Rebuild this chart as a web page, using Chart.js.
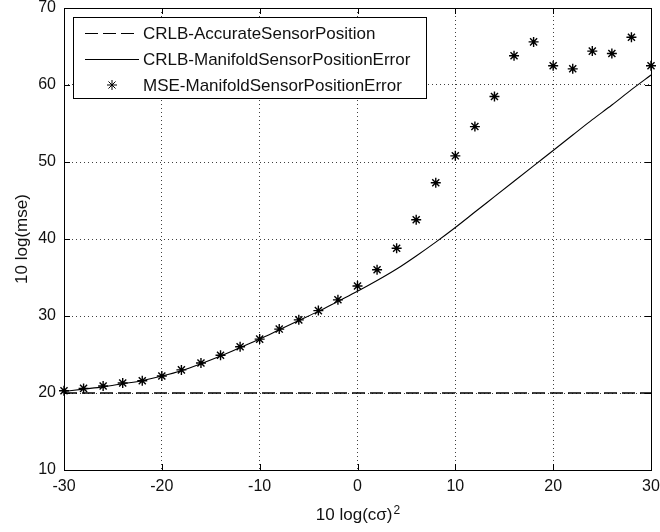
<!DOCTYPE html>
<html>
<head>
<meta charset="utf-8">
<script src="https://cdn.jsdelivr.net/npm/chart.js@4.4.0/dist/chart.umd.min.js"></script>
<style>
  html, body { margin: 0; padding: 0; background: #fff; }
  #wrap { width: 660px; height: 532px; }
</style>
</head>
<body>
<div id="wrap"><canvas id="mse_chart" width="660" height="532"></canvas></div>
<script>
// noise level, 10 log(c sigma)^2 in dB
const snrDb = [-30, -28, -26, -24, -22, -20, -18, -16, -14, -12, -10, -8, -6, -4, -2, 0,
               2, 4, 6, 8, 10, 12, 14, 16, 18, 20, 22, 24, 26, 28, 30];

// bound with exact sensor positions (flat)
const crlbAccurate = [20, 20, 20, 20, 20, 20, 20, 20, 20, 20, 20, 20, 20, 20, 20, 20,
                      20, 20, 20, 20, 20, 20, 20, 20, 20, 20, 20, 20, 20, 20, 20];

// bound with sensor position errors on the manifold
const crlbManifold = [20.2, 20.5, 20.8, 21.2, 21.6, 22.2, 22.9, 23.8, 24.8, 25.9, 27.0, 28.2,
                      29.4, 30.6, 31.9, 33.2, 34.6, 36.1, 37.8, 39.6, 41.5, 43.5, 45.5, 47.5,
                      49.5, 51.5, 53.5, 55.5, 57.4, 59.4, 61.3];

// simulated mse of the estimator
const mseManifold = [20.3, 20.6, 20.9, 21.3, 21.6, 22.2, 23.0, 23.9, 24.9, 26.0, 27.0, 28.3,
                     29.5, 30.7, 32.1, 33.9, 36.0, 38.8, 42.5, 47.3, 50.8, 54.6, 58.5, 63.8,
                     65.6, 62.5, 62.1, 64.4, 64.1, 66.2, 62.5];

const seriesNames = ['CRLB-AccurateSensorPosition', 'CRLB-ManifoldSensorPositionError', 'MSE-ManifoldSensorPositionError'];
const xTicks = [-30, -20, -10, 0, 10, 20, 30];
const yTicks = [10, 20, 30, 40, 50, 60, 70];
const xTitle = '10 log(cσ)';
const xTitleSup = '2';
const yTitle = '10 log(mse)';

const FONT = 'Liberation Sans, Arial, sans-serif';
const DASH = [13, 5];

function pts(ys) {
    return snrDb.map((x, i) => ({ x: x, y: ys[i] }));
}

// box, inward ticks, x title with superscript, legend inside the axes
const matlabFrame = {
    id: 'matlabFrame',
    afterDatasetsDraw(chart) {
        const { ctx, chartArea: a, scales } = chart;
        ctx.save();
        ctx.strokeStyle = '#000';
        ctx.lineWidth = 1;
        ctx.setLineDash([]);
        ctx.strokeRect(a.left + 0.5, a.top + 0.5, a.right - a.left, a.bottom - a.top);
        ctx.beginPath();
        xTicks.forEach(v => {
            const px = Math.round(scales.x.getPixelForValue(v)) + 0.5;
            ctx.moveTo(px, a.bottom); ctx.lineTo(px, a.bottom - 6);
            ctx.moveTo(px, a.top); ctx.lineTo(px, a.top + 6);
        });
        yTicks.forEach(v => {
            const py = Math.round(scales.y.getPixelForValue(v)) + 0.5;
            ctx.moveTo(a.left, py); ctx.lineTo(a.left + 6, py);
            ctx.moveTo(a.right, py); ctx.lineTo(a.right - 6, py);
        });
        ctx.stroke();
        ctx.restore();
    },
    afterDraw(chart) {
        const { ctx, chartArea: a } = chart;
        ctx.save();
        ctx.fillStyle = '#111';

        // x axis title
        ctx.font = '17px ' + FONT;
        const w1 = ctx.measureText(xTitle).width;
        ctx.font = '12px ' + FONT;
        const w2 = ctx.measureText(xTitleSup).width;
        const x0 = (a.left + a.right) / 2 - (w1 + w2) / 2;
        ctx.textBaseline = 'alphabetic';
        ctx.textAlign = 'left';
        ctx.font = '17px ' + FONT;
        ctx.fillText(xTitle, x0, 520);
        ctx.font = '12px ' + FONT;
        ctx.fillText(xTitleSup, x0 + w1 + 1, 514);

        // legend
        const box = { left: 73, top: 17, right: 426, bottom: 98 };
        ctx.fillStyle = '#fff';
        ctx.fillRect(box.left, box.top, box.right - box.left, box.bottom - box.top);
        ctx.strokeStyle = '#000';
        ctx.lineWidth = 1;
        ctx.strokeRect(box.left + 0.5, box.top + 0.5, box.right - box.left, box.bottom - box.top);
        const rows = [33, 59, 85];
        chart.data.datasets.forEach((ds, i) => {
            const y = rows[i];
            ctx.strokeStyle = '#000';
            ctx.lineWidth = 1;
            if (ds.showLine === false) {
                Chart.helpers.drawPoint(ctx, { pointStyle: 'star', radius: 5, borderWidth: 1.4, rotation: 0 }, 112, y);
            } else {
                ctx.setLineDash(ds.borderDash || []);
                ctx.beginPath();
                ctx.moveTo(85, y + 0.5);
                ctx.lineTo(139, y + 0.5);
                ctx.stroke();
                ctx.setLineDash([]);
            }
            ctx.fillStyle = '#111';
            ctx.font = '17px ' + FONT;
            ctx.textBaseline = 'middle';
            ctx.fillText(ds.label, 143, y + 1);
        });
        ctx.restore();
    }
};

const ctx = document.getElementById('mse_chart').getContext('2d');
new Chart(ctx, {
    type: 'scatter',
    data: {
        datasets: [{
            label: seriesNames[0],
            data: pts(crlbAccurate),
            showLine: true,
            borderColor: '#000',
            borderWidth: 1.4,
            borderDash: DASH,
            pointRadius: 0,
            fill: false
        }, {
            label: seriesNames[1],
            data: pts(crlbManifold),
            showLine: true,
            borderColor: '#000',
            borderWidth: 1.1,
            pointRadius: 0,
            cubicInterpolationMode: 'monotone',
            fill: false
        }, {
            label: seriesNames[2],
            data: pts(mseManifold),
            showLine: false,
            pointStyle: 'star',
            pointRadius: 5,
            pointBorderWidth: 1.4,
            pointBorderColor: '#000',
            pointBackgroundColor: '#000',
            clip: false
        }]
    },
    options: {
        responsive: false,
        animation: false,
        layout: { padding: { top: 8, right: 9, left: 0, bottom: 0 } },
        plugins: {
            legend: { display: false },
            tooltip: { enabled: false }
        },
        scales: {
            x: {
                type: 'linear',
                min: -30,
                max: 30,
                afterBuildTicks: s => { s.ticks = xTicks.map(v => ({ value: v })); },
                afterFit: s => { s.height = 62; s.paddingLeft = 0; s.paddingRight = 0; },
                grid: { color: 'rgba(0,0,0,0.75)', lineWidth: 1, drawTicks: false },
                border: { display: false, dash: [1, 3] },
                ticks: { color: '#111', font: { family: FONT, size: 16 }, padding: 7, maxRotation: 0 }
            },
            y: {
                type: 'linear',
                min: 10,
                max: 70,
                afterBuildTicks: s => { s.ticks = yTicks.map(v => ({ value: v })); },
                afterFit: s => { s.width = 64; s.paddingTop = 0; s.paddingBottom = 0; },
                grid: { color: 'rgba(0,0,0,0.75)', lineWidth: 1, drawTicks: false },
                border: { display: false, dash: [1, 3] },
                ticks: { color: '#111', font: { family: FONT, size: 16 }, padding: 8 },
                title: {
                    display: true,
                    text: yTitle,
                    color: '#111',
                    font: { family: FONT, size: 17 },
                    padding: { top: 12, bottom: 0 }
                }
            }
        }
    },
    plugins: [matlabFrame]
});
</script>
</body>
</html>
